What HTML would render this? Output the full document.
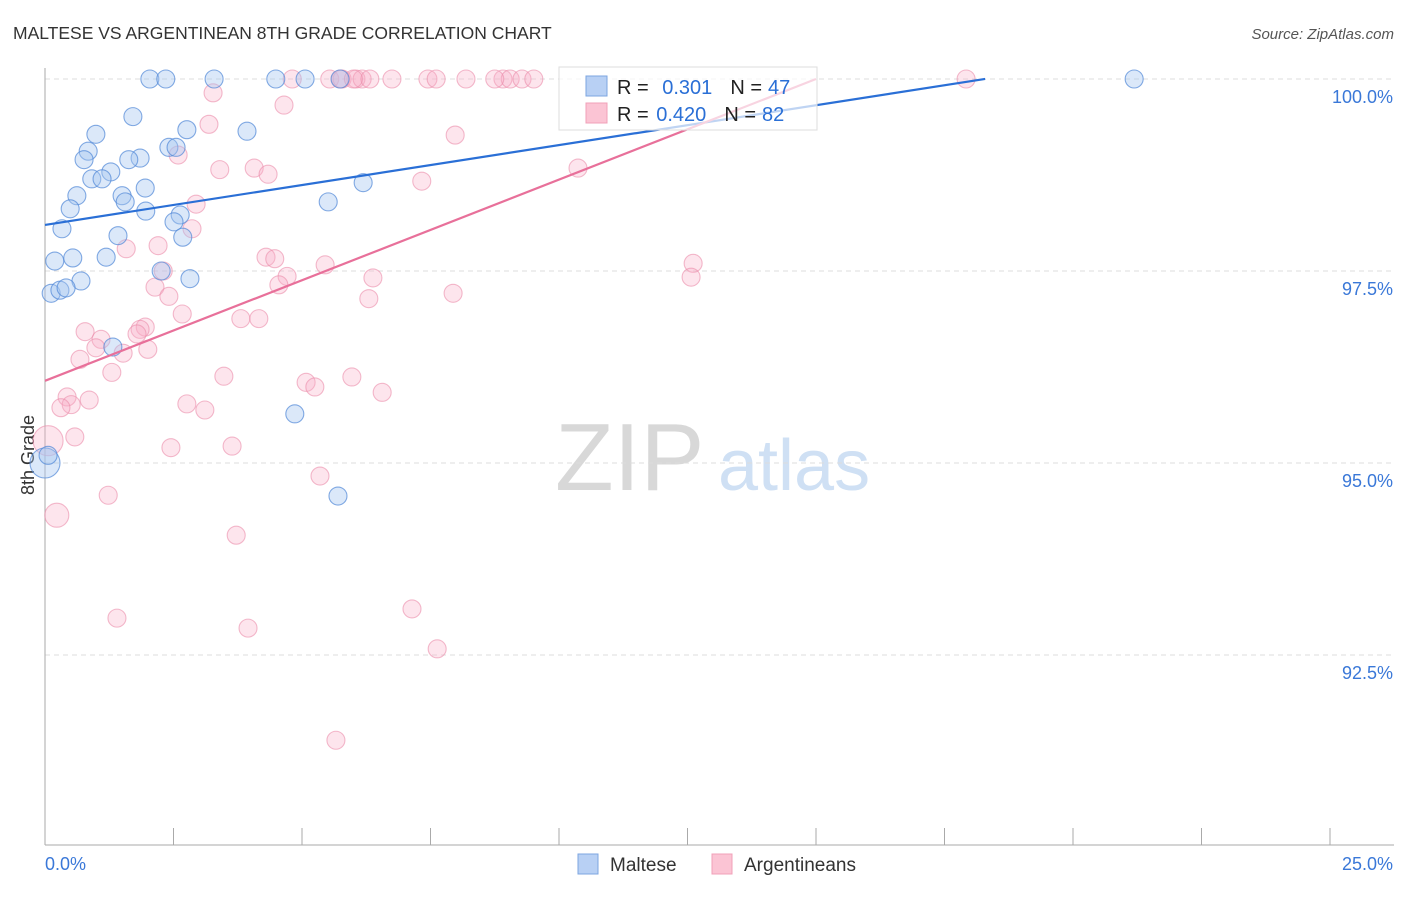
<!DOCTYPE html>
<html><head><meta charset="utf-8"><style>
body{margin:0;background:#fff;font-family:"Liberation Sans",sans-serif;}
svg text{font-family:"Liberation Sans",sans-serif;}
</style></head><body>
<svg id="c" width="1406" height="892" xmlns="http://www.w3.org/2000/svg">
<text x="13" y="39" font-size="17.5" fill="#333">MALTESE VS ARGENTINEAN 8TH GRADE CORRELATION CHART</text>
<text x="1394" y="39" font-size="15" fill="#555" text-anchor="end" font-style="italic">Source: ZipAtlas.com</text>
<text x="555" y="490" font-size="96" fill="#d8d8d8" font-family="Liberation Serif">ZIP</text>
<text x="718" y="490" font-size="72" fill="#cfe0f4">atlas</text>
<text transform="translate(34,455) rotate(-90)" font-size="18" fill="#333" text-anchor="middle">8th Grade</text>
<g id="grid"></g><g id="axes"></g><g id="pts"></g><g id="lines"></g>
<g>
<rect x="559" y="67" width="258" height="63" fill="rgba(255,255,255,0.7)" stroke="#ddd"/>
<rect x="586" y="76" width="21" height="20" fill="#b8d0f4" stroke="#7da6e0"/>
<rect x="586" y="103" width="21" height="20" fill="#fbc4d4" stroke="#f0a0b8"/>
<text x="617" y="94" font-size="20" fill="#222">R = <tspan fill="#2a6fd6" dx="8">0.301</tspan><tspan fill="#222" dx="18">N =</tspan><tspan fill="#2a6fd6" dx="6">47</tspan></text>
<text x="617" y="121" font-size="20" fill="#222">R = <tspan fill="#2a6fd6" dx="2">0.420</tspan><tspan fill="#222" dx="18">N =</tspan><tspan fill="#2a6fd6" dx="6">82</tspan></text>
</g>
<g>
<rect x="578" y="854" width="20" height="20" fill="#b8d0f4" stroke="#7da6e0"/>
<text x="610" y="871" font-size="19" fill="#333">Maltese</text>
<rect x="712" y="854" width="20" height="20" fill="#fbc4d4" stroke="#f0a0b8"/>
<text x="744" y="871" font-size="19" fill="#333">Argentineans</text>
</g>
</svg>
<script>
const yTicks=[100,97.5,95,92.5];
const yTickLabels=["100.0%","97.5%","95.0%","92.5%"];
const xTicks=[0,2.5,5,7.5,10,12.5,15,17.5,20,22.5,25];
const maltX=[2.04,2.35,3.29,4.49,5.06,5.74,21.19,1.71,0.99,2.76,3.93,0.84,0.76,1.85,1.63,2.41,2.55,1.28,0.91,1.11,0.62,1.95,1.50,1.56,0.49,1.96,2.63,2.51,5.51,6.19,0.33,1.42,2.68,0.19,0.54,1.19,2.26,0.70,2.82,0.12,0.29,0.41,1.32,4.86,5.70,0.0,0.06];
const maltY=[100,100,100,100,100,100,100,99.51,99.28,99.34,99.32,99.06,98.95,98.97,98.95,99.11,99.11,98.79,98.70,98.70,98.48,98.58,98.48,98.40,98.31,98.28,98.23,98.14,98.40,98.65,98.05,97.96,97.94,97.63,97.67,97.68,97.50,97.37,97.40,97.21,97.25,97.28,96.51,95.64,94.57,95.0,95.10];
const maltR=[9,9,9,9,9,9,9,9,9,9,9,9,9,9,9,9,9,9,9,9,9,9,9,9,9,9,9,9,9,9,9,9,9,9,9,9,9,9,9,9,9,9,9,9,9,15,9];
const argX=[4.81,5.54,5.78,6.05,6.17,6.32,6.75,7.45,7.61,8.19,8.91,9.05,9.28,9.51,17.92,3.27,4.65,3.19,7.98,2.59,3.40,4.07,4.34,7.33,10.37,2.94,2.86,2.20,1.58,4.30,4.47,5.45,12.61,2.30,4.71,6.38,12.57,2.14,4.55,2.41,6.30,7.94,2.67,3.81,4.16,0.78,1.95,1.85,1.79,1.09,0.99,2.00,1.52,0.68,1.30,3.48,5.08,5.25,5.97,6.56,0.43,0.86,0.51,0.31,2.76,3.11,0.58,0.06,2.45,3.64,5.35,1.23,0.23,3.72,1.40,3.95,7.14,7.63,5.66,5.75,8.75,6.0];
const argY=[100,100,100,100,100,100,100,100,100,100,100,100,100,100,100,99.82,99.66,99.41,99.27,99.01,98.82,98.84,98.76,98.67,98.84,98.37,98.05,97.83,97.79,97.68,97.66,97.58,97.60,97.50,97.43,97.41,97.42,97.29,97.32,97.17,97.14,97.21,96.94,96.88,96.88,96.71,96.77,96.74,96.68,96.61,96.50,96.48,96.43,96.35,96.18,96.13,96.05,95.99,96.12,95.92,95.86,95.82,95.76,95.72,95.77,95.69,95.34,95.29,95.20,95.22,94.83,94.58,94.32,94.06,92.98,92.85,93.10,92.58,91.39,100,100,100];
const argR=[9,9,9,9,9,9,9,9,9,9,9,9,9,9,9,9,9,9,9,9,9,9,9,9,9,9,9,9,9,9,9,9,9,9,9,9,9,9,9,9,9,9,9,9,9,9,9,9,9,9,9,9,9,9,9,9,9,9,9,9,9,9,9,9,9,9,9,15,9,9,9,9,12,9,9,9,9,9,9,9,9,9];
const trendIntercept=[98.10,96.07];
const trendSlope=[0.1039,0.262];
const trendEnd=[18.29,15.0];
const X=v=>45+v*51.4, Y=v=>79+(100-v)*76.8;
const NS="http://www.w3.org/2000/svg";
function mk(p,t,a){const e=document.createElementNS(NS,t);for(const k in a)e.setAttribute(k,a[k]);document.getElementById(p).appendChild(e);return e;}
yTicks.forEach((v,i)=>{
 const l=mk('grid','line',{x1:45,x2:1394,y1:Y(v),y2:Y(v),stroke:'#ddd','stroke-dasharray':'5,4'});
 
 
 const t=mk('grid','text',{x:1393,y:Y(v)+24,'font-size':18,fill:'#3a78d8','text-anchor':'end'});t.textContent=yTickLabels[i];
 
 
});
const ax=mk('axes','line',{x1:45,x2:45,y1:68,y2:845,stroke:'#aaa'});


const bx=mk('axes','line',{x1:45,x2:1394,y1:845,y2:845,stroke:'#aaa'});


xTicks.forEach(v=>{const t=mk('axes','line',{x1:X(v),x2:X(v),y1:828,y2:845,stroke:'#aaa'});
 
 });
const l0=mk('axes','text',{x:45,y:870,'font-size':18,fill:'#3a78d8'});l0.textContent='0.0%';


const l1=mk('axes','text',{x:1393,y:870,'font-size':18,fill:'#3a78d8','text-anchor':'end'});l1.textContent='25.0%';


argX.forEach((v,i)=>{const c=mk('pts','circle',{cx:X(v),cy:Y(argY[i]),r:argR[i],fill:'rgba(248,175,198,0.32)',stroke:'rgba(235,140,170,0.6)','stroke-width':1.1});
 
 });
maltX.forEach((v,i)=>{const c=mk('pts','circle',{cx:X(v),cy:Y(maltY[i]),r:maltR[i],fill:'rgba(165,198,240,0.4)',stroke:'rgba(80,135,215,0.7)','stroke-width':1.1});
 
 });
const cols=['#2a6fd6','#e8709a'];
trendIntercept.forEach((b,i)=>{const e=trendEnd[i];const l=mk('lines','line',{x1:X(0),y1:Y(b),x2:X(e),y2:Y(b+trendSlope[i]*e),stroke:cols[i],'stroke-width':2.2});
 
 });
</script>
</body></html>
